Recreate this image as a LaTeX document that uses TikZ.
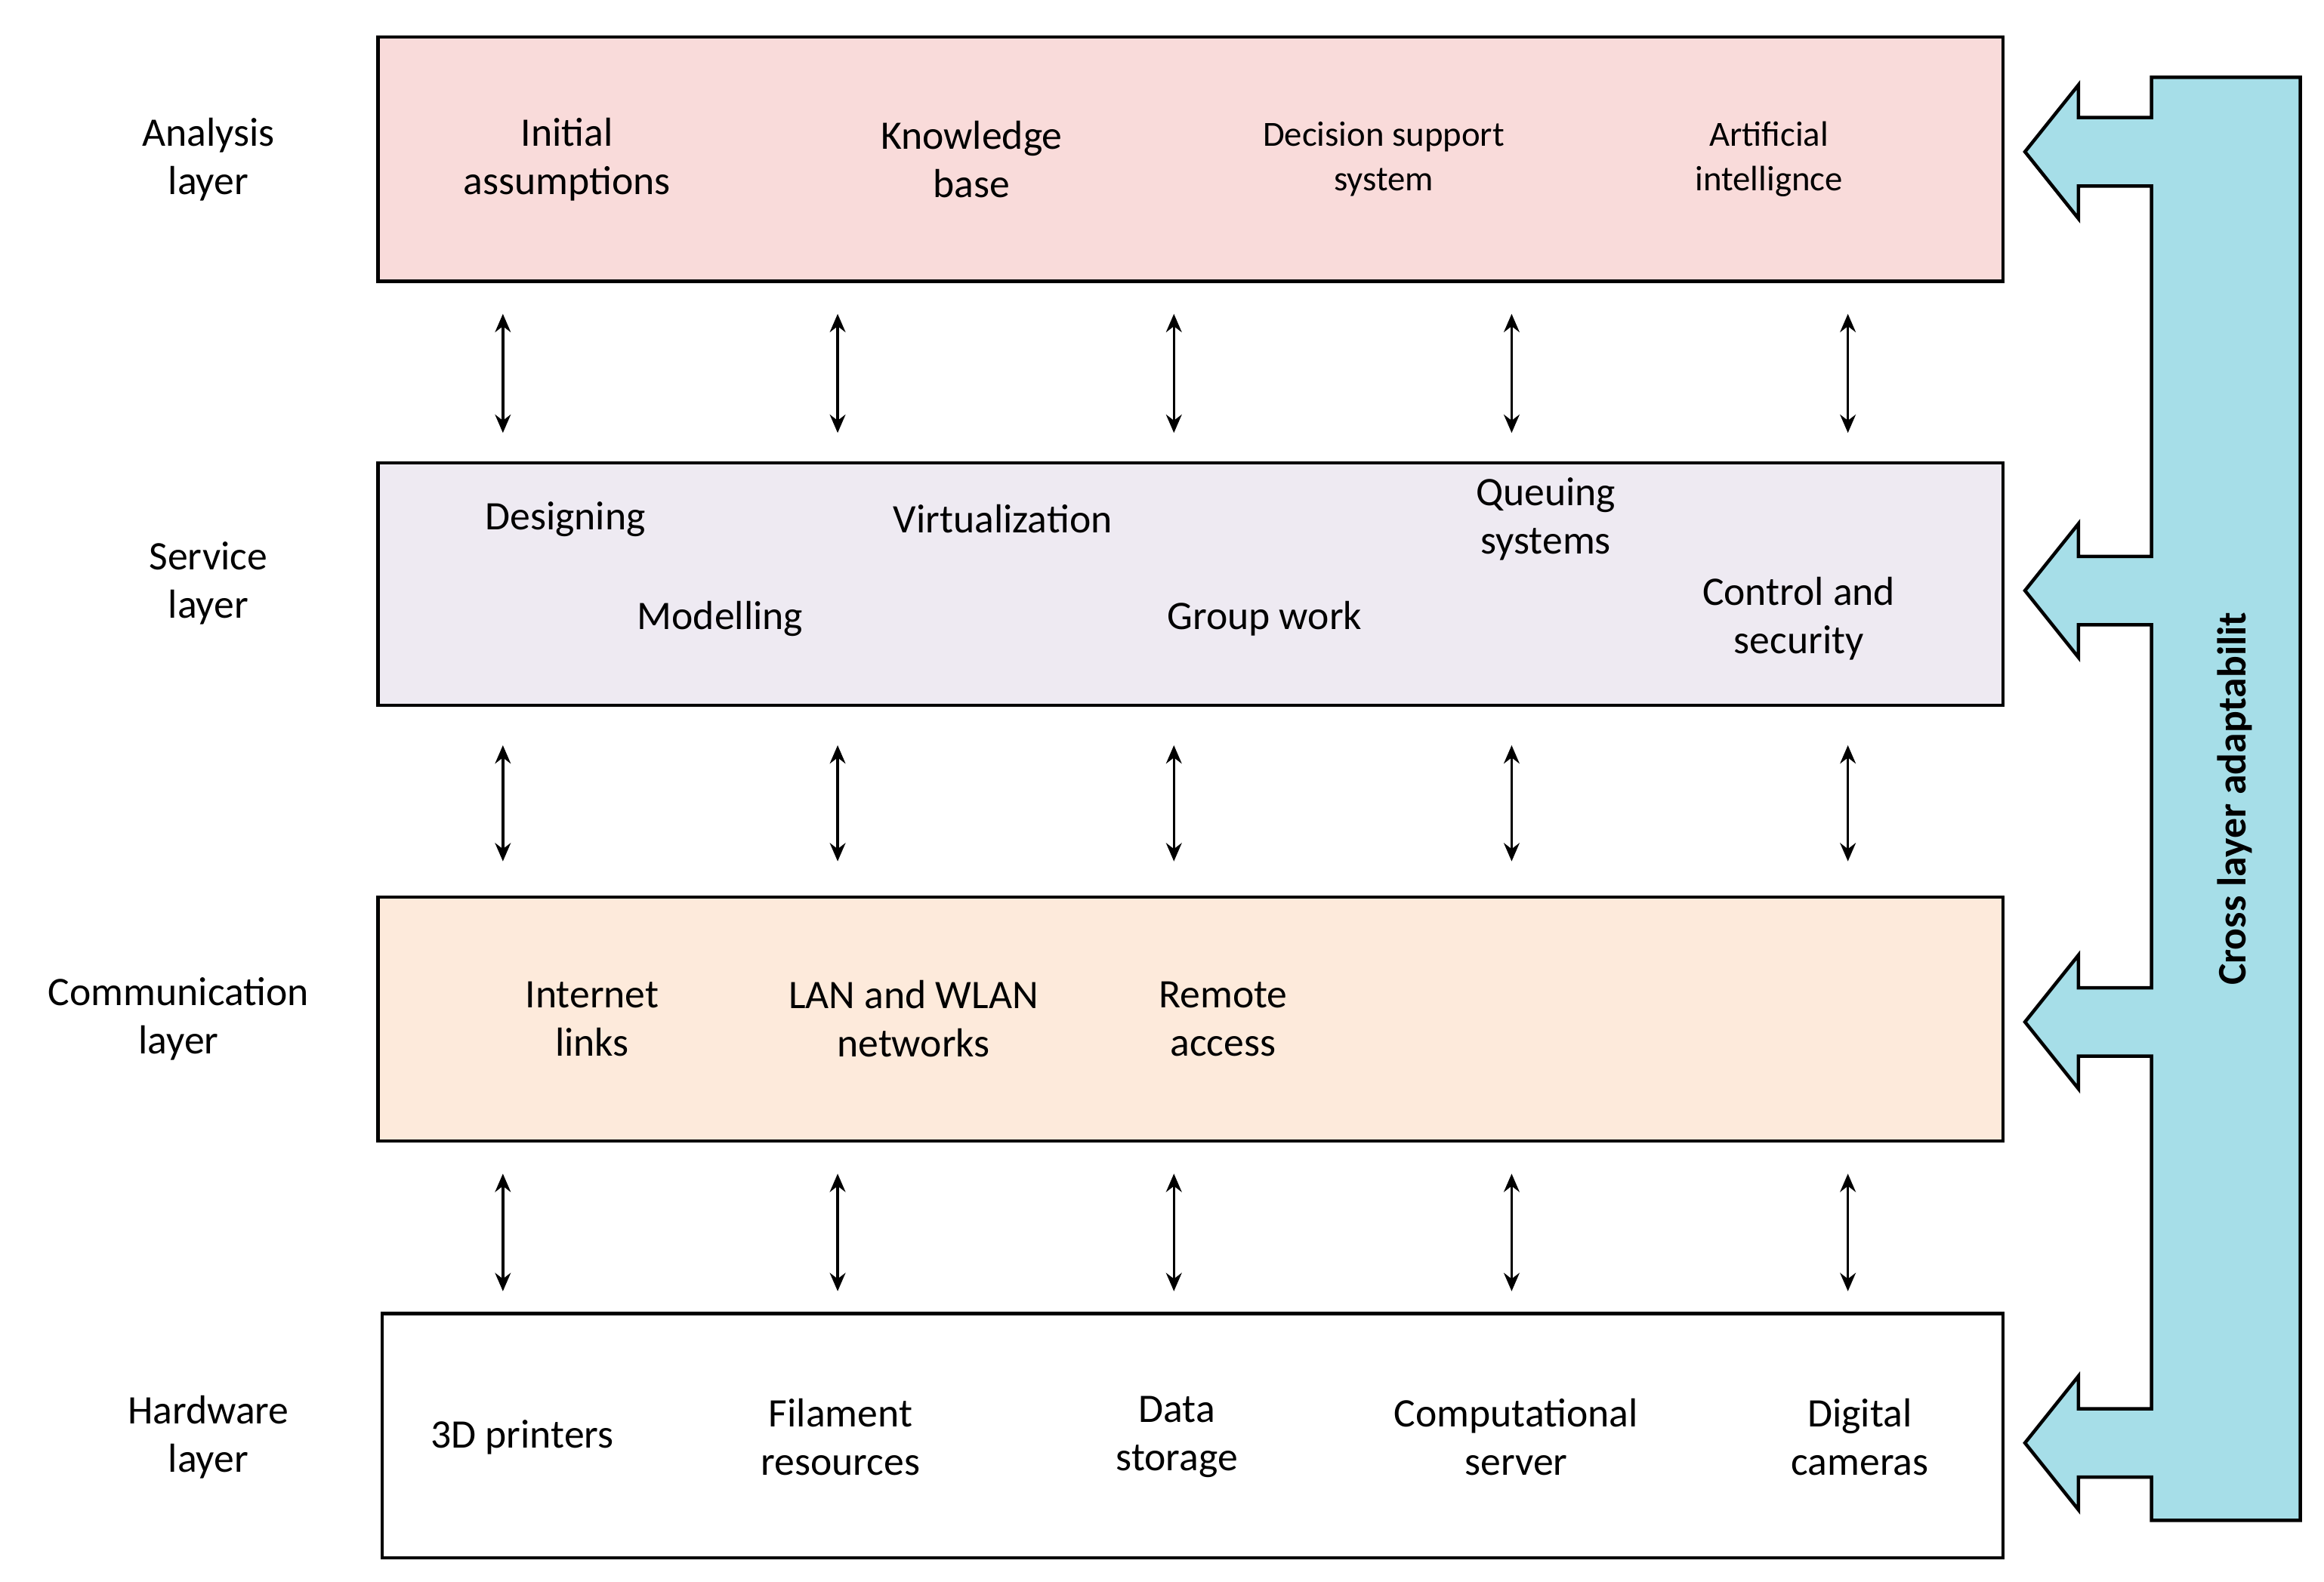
\documentclass[tikz,border=0pt]{standalone}
\usepackage{fontspec}
\setmainfont{Carlito}
\usetikzlibrary{arrows.meta}
\definecolor{pinkf}{HTML}{F9DBDA}
\definecolor{lavf}{HTML}{EEEAF2}
\definecolor{peachf}{HTML}{FDEADB}
\definecolor{bluef}{HTML}{A6DEE8}
\begin{document}
\begin{tikzpicture}[x=0.02cm,y=-0.02cm,
  layer/.style={draw,line width=1.2pt,anchor=north west,inner sep=0},
  t/.style={font=\fontsize{15.5}{18.5}\selectfont,align=center},
  ts/.style={font=\fontsize{13.5}{17}\selectfont,align=center},
  dar/.style={{Stealth[length=7pt,width=6pt]}-{Stealth[length=7pt,width=6pt]},line width=1pt}]
\useasboundingbox (0,0) rectangle (1562,1063);
% cross layer arrow
\draw[fill=bluef,line width=1.3pt]
  (1446,52) -- (1546,52) -- (1546,1022) -- (1446,1022)
  \foreach \c in {970,687,397,102} { -- (1446,\c+23) -- (1397,\c+23) -- (1397,\c+45) -- (1361,\c) -- (1397,\c-45) -- (1397,\c-23) -- (1446,\c-23) } -- cycle;
\node[rotate=90,font=\fontsize{15.5}{18}\selectfont\bfseries] (cla) at (1502,537) {Cross layer adaptabilit};
% layers
\node[layer,fill=pinkf,minimum width=1092*0.02cm,minimum height=164*0.02cm] (L1) at (253,24) {};
\node[layer,fill=lavf,minimum width=1092*0.02cm,minimum height=163*0.02cm] (L2) at (253,310) {};
\node[layer,fill=peachf,minimum width=1092*0.02cm,minimum height=164*0.02cm] (L3) at (253,602) {};
\node[layer,fill=white,minimum width=1089*0.02cm,minimum height=164*0.02cm] (L4) at (256,882) {};
% side labels
\node[t] (a) at (140,107) {Analysis\\layer};
\node[t] (s) at (140,392) {Service\\layer};
\node[t] (c) at (120,685) {Communication\\layer};
\node[t] (h) at (140,966) {Hardware\\layer};
% analysis
\node[t] (a1) at (381,107) {Initial\\assumptions};
\node[t] (a2) at (653,107) {Knowledge\\base};
\node[ts] (a3) at (930,107) {Decision support\\system};
\node[ts] (a4) at (1189,107) {Artificial\\intellignce};
% service
\node[t] (s1) at (380,349) {Designing};
\node[t] (s2) at (484,416) {Modelling};
\node[t] (s3) at (674,349) {Virtualization};
\node[t] (s4) at (850,416) {Group work};
\node[t] (s5) at (1039,349) {Queuing\\systems};
\node[t] (s6) at (1209,416) {Control and\\security};
% communication
\node[t] (c1) at (398,685) {Internet\\links};
\node[t] (c2) at (614,685) {LAN and WLAN\\networks};
\node[t] (c3) at (822,685) {Remote\\access};
% hardware
\node[t] (h1) at (351,966) {3D printers};
\node[t] (h2) at (565,966) {Filament\\resources};
\node[t] (h3) at (791,966) {Data\\storage};
\node[t] (h4) at (1019,966) {Computational\\server};
\node[t] (h5) at (1250,966) {Digital\\cameras};
% arrows
\foreach \x [count=\i] in {338,563,789,1016,1242}{
  \coordinate (p\i) at (\x,211); \coordinate (q\i) at (\x,291);
  \draw[dar] (p\i) -- (q\i);
  \coordinate (r\i) at (\x,501); \coordinate (u\i) at (\x,579);
  \draw[dar] (r\i) -- (u\i);
  \coordinate (v\i) at (\x,789); \coordinate (w\i) at (\x,868);
  \draw[dar] (v\i) -- (w\i);
}
\end{tikzpicture}
\end{document}
